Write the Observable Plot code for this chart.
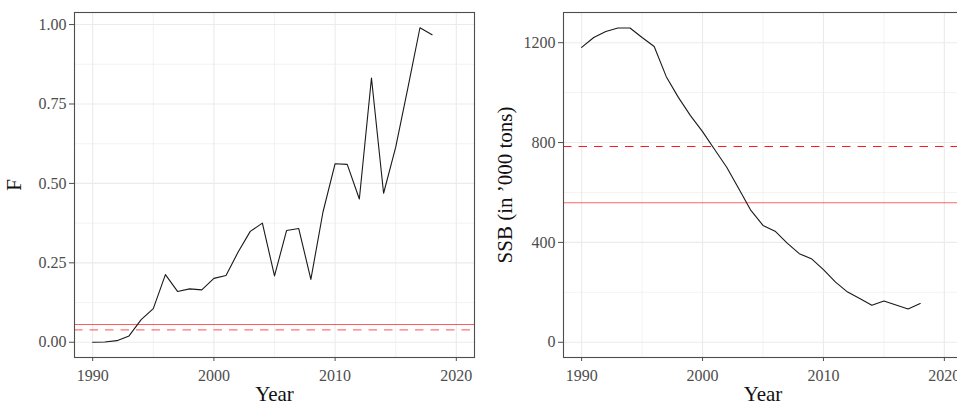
<!DOCTYPE html>
<html><head><meta charset="utf-8">
<script src="https://cdn.jsdelivr.net/npm/d3@7"></script>
<script src="https://cdn.jsdelivr.net/npm/@observablehq/plot@0.6"></script>
<style>
body{margin:0;background:#fff;}
#wrap{display:flex;width:957px;height:405px;overflow:hidden;}
#l{width:480px;flex:none;overflow:hidden;}
#r{width:477px;flex:none;overflow:hidden;}
svg{display:block;max-width:none !important;height:405px !important;}
</style>
</head><body>
<div id="wrap"><div id="l"></div><div id="r"></div></div>
<script>
const years = [1990,1991,1992,1993,1994,1995,1996,1997,1998,1999,2000,2001,2002,2003,2004,2005,2006,2007,2008,2009,2010,2011,2012,2013,2014,2015,2016,2017,2018];
const fValues = [0.000,0.001,0.005,0.020,0.071,0.106,0.213,0.160,0.168,0.165,0.201,0.210,0.284,0.349,0.375,0.209,0.352,0.358,0.198,0.410,0.562,0.560,0.451,0.832,0.469,0.614,0.800,0.990,0.968];
const ssbValues = [1181,1221,1245,1259,1259,1221,1185,1064,981,908,844,772,701,615,528,468,445,397,355,335,291,241,201,175,148,165,149,133,155];
const fRefSolid = [0.056];
const fRefDashed = [0.039];
const ssbRefSolid = [559];
const ssbRefDashed = [784];
const xTicks = [1990,2000,2010,2020];
const xMinor = [1995,2005,2015];
const fTicks = [0,0.25,0.5,0.75,1];
const fMinor = [0.125,0.375,0.625,0.875];
const ssbTicks = [0,400,800,1200];
const ssbMinor = [200,600,1000];

const fData = years.map((year,i)=>({year, value:fValues[i]}));
const ssbData = years.map((year,i)=>({year, value:ssbValues[i]}));

const FONT = "'Liberation Serif', 'DejaVu Serif', serif";
const GRID = "#ebebeb";
const INK = "#4d4d4d";

function panel({data, width, marginLeft, marginRight, yDomain, yTicks, yMinor, yFormat, refSolid, refDashed, solidOpacity, dashedOpacity, yTitle, yTitleDx}) {
  return Plot.plot({
    width, height: 405,
    marginLeft, marginRight, marginTop: 12, marginBottom: 48,
    style: {fontFamily: FONT, fontSize: "16px", color: INK, background: "white", maxWidth: "none"},
    x: {domain: [1988.5, 2021.5]},
    y: {domain: yDomain},
    marks: [
      Plot.ruleX(xMinor, {stroke: GRID, strokeWidth: 0.6}),
      Plot.ruleY(yMinor, {stroke: GRID, strokeWidth: 0.6}),
      Plot.ruleX(xTicks, {stroke: GRID, strokeWidth: 1.1}),
      Plot.ruleY(yTicks, {stroke: GRID, strokeWidth: 1.1}),
      Plot.ruleY(refSolid, {stroke: "red", strokeOpacity: solidOpacity, strokeWidth: 1.1}),
      Plot.ruleY(refDashed, {stroke: "red", strokeOpacity: dashedOpacity, strokeWidth: 1.1, strokeDasharray: "8.5,7"}),
      Plot.line(data, {x: "year", y: "value", stroke: "#1a1a1a", strokeWidth: 1.1}),
      Plot.frame({stroke: INK, strokeWidth: 1.1}),
      Plot.axisX({ticks: xTicks, tickSize: 4, tickPadding: 8, tickFormat: d3.format("d"), label: null, fontSize: 16}),
      Plot.axisY({ticks: yTicks, tickSize: 5, tickPadding: 3, tickFormat: yFormat, label: null, fontSize: 16}),
      Plot.text(["Year"], {frameAnchor: "bottom", dy: 37, lineAnchor: "middle", textAnchor: "middle", fontSize: 21, fill: "#111"}),
      Plot.text([yTitle], {frameAnchor: "left", dx: yTitleDx, rotate: -90, lineAnchor: "middle", textAnchor: "middle", fontSize: 21, fill: "#111"})
    ]
  });
}

document.getElementById("l").append(panel({
  data: fData, width: 480, marginLeft: 74, marginRight: 6,
  yDomain: [-0.048, 1.038], yTicks: fTicks, yMinor: fMinor, yFormat: d3.format(".2f"),
  refSolid: fRefSolid, refDashed: fRefDashed, solidOpacity: 0.65, dashedOpacity: 0.55,
  yTitle: "F", yTitleDx: -60
}));
document.getElementById("r").append(panel({
  data: ssbData, width: 490, marginLeft: 83, marginRight: 8,
  yDomain: [-61, 1321], yTicks: ssbTicks, yMinor: ssbMinor, yFormat: d3.format("d"),
  refSolid: ssbRefSolid, refDashed: ssbRefDashed, solidOpacity: 0.6, dashedOpacity: 0.9,
  yTitle: "SSB (in \u2019000 tons)", yTitleDx: -58
}));
</script>
</body></html>
